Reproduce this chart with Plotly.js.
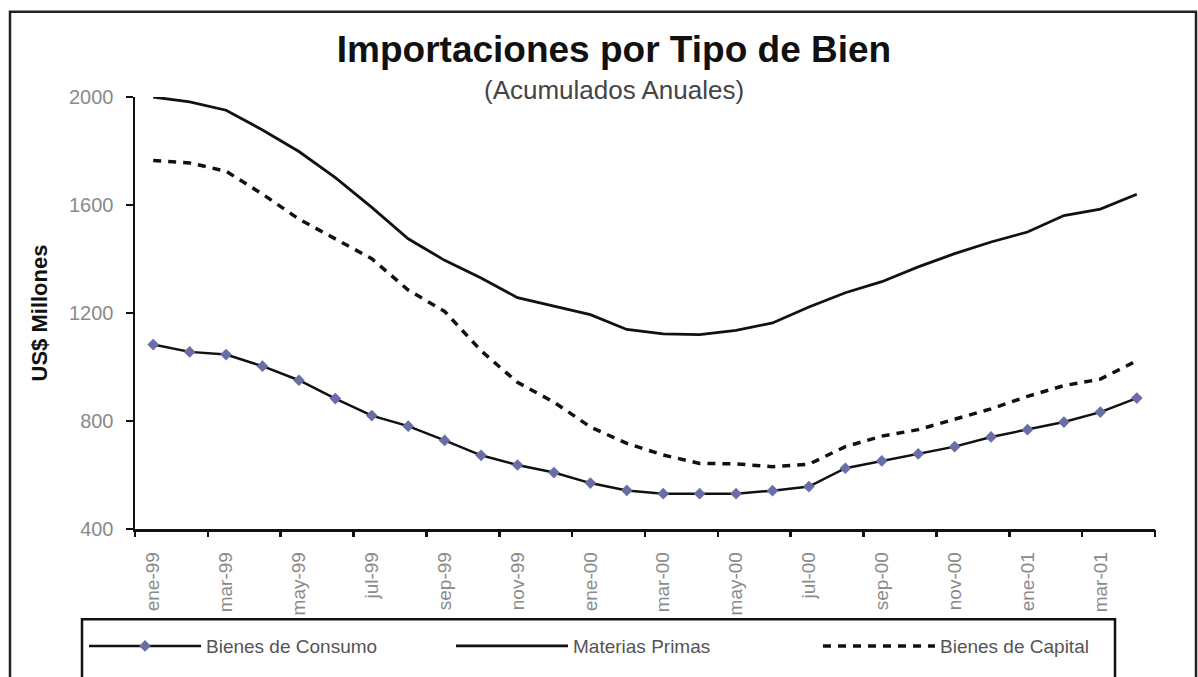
<!DOCTYPE html>
<html>
<head>
<meta charset="utf-8">
<script src="https://cdn.plot.ly/plotly-3.0.1.min.js"></script>
<style>
  html, body { margin: 0; padding: 0; background: #ffffff; }
  #chart { width: 1198px; height: 677px; }
</style>
</head>
<body>
<div id="chart"></div>
<script>
// ---- Data (US$ millones, acumulados anuales) ----
const months = [
  'ene-99','feb-99','mar-99','abr-99','may-99','jun-99','jul-99','ago-99','sep-99','oct-99','nov-99','dic-99',
  'ene-00','feb-00','mar-00','abr-00','may-00','jun-00','jul-00','ago-00','sep-00','oct-00','nov-00','dic-00',
  'ene-01','feb-01','mar-01','abr-01'
];
const tickLabels = ['ene-99','mar-99','may-99','jul-99','sep-99','nov-99','ene-00','mar-00','may-00','jul-00','sep-00','nov-00','ene-01','mar-01'];
const bienesConsumo = [1083,1056,1046,1003,951,883,820,781,728,673,637,609,570,543,531,531,531,542,557,625,652,678,705,741,768,796,833,885];
const materiasPrimas = [2000,1982,1951,1878,1798,1701,1591,1475,1395,1330,1257,1225,1194,1139,1123,1120,1136,1163,1222,1275,1316,1371,1420,1463,1500,1561,1585,1640];
const bienesCapital = [1765,1756,1725,1640,1548,1475,1401,1285,1206,1060,943,870,778,717,674,643,641,631,640,705,744,768,808,845,891,931,955,1023];
const yTicks = [400, 800, 1200, 1600, 2000];

// ---- Layout geometry ----
const W = 1198, H = 677;
const M = {l: 135, r: 43, t: 97, b: 144};
const PW = W - M.l - M.r, PH = H - M.t - M.b;
const px = v => (v - M.l) / PW;        // pixel x -> paper x
const py = v => (H - M.b - v) / PH;    // pixel y -> paper y

// tick marks sit on the boundaries between category pairs
const boundaryTicks = [];
for (let k = -0.5; k <= months.length - 0.5; k += 2) boundaryTicks.push(k);

const font = 'Liberation Sans, Arial, sans-serif';

const traces = [
  {
    x: months, y: bienesConsumo, name: 'Bienes de Consumo', type: 'scatter', mode: 'lines+markers',
    line: {color: '#111111', width: 2.5},
    marker: {symbol: 'diamond', size: 9, color: '#6a6ea6', line: {width: 0}}
  },
  {
    x: months, y: materiasPrimas, name: 'Materias Primas', type: 'scatter', mode: 'lines',
    line: {color: '#111111', width: 2.8}
  },
  {
    x: months, y: bienesCapital, name: 'Bienes de Capital', type: 'scatter', mode: 'lines',
    line: {color: '#111111', width: 3.5, dash: '8px,7px'}
  },
  // carrier for the boundary tick-mark axis (draws nothing)
  {
    x: [null], y: [null], xaxis: 'x2', yaxis: 'y', type: 'scatter', mode: 'lines',
    showlegend: false, hoverinfo: 'skip'
  }
];

const layout = {
  width: W, height: H,
  margin: M,
  paper_bgcolor: '#ffffff', plot_bgcolor: '#ffffff',
  font: {family: font, color: '#222'},
  showlegend: true,
  title: {
    text: '<b>Importaciones por Tipo de Bien</b>',
    font: {family: font, size: 37, color: '#111'},
    x: 614 / W, xref: 'container', xanchor: 'center',
    y: 1 - 49 / H, yref: 'container', yanchor: 'middle'
  },
  xaxis: {
    type: 'category', range: [-0.5, months.length - 0.5],
    tickmode: 'array', tickvals: tickLabels, ticktext: tickLabels,
    tickangle: -90, ticks: '', ticklabelstandoff: 13,
    tickfont: {family: font, size: 19, color: '#8a8a8a'},
    showline: true, linecolor: '#111', linewidth: 2.5,
    showgrid: false, zeroline: false, fixedrange: true
  },
  xaxis2: {
    type: 'linear', overlaying: 'x', anchor: 'y', side: 'bottom',
    range: [-0.5, months.length - 0.5],
    tickmode: 'array', tickvals: boundaryTicks,
    ticks: 'outside', ticklen: 7, tickwidth: 2.5, tickcolor: '#111',
    showticklabels: false, showline: false, showgrid: false, zeroline: false
  },
  yaxis: {
    range: [400, 2000], tickmode: 'array', tickvals: yTicks,
    ticks: 'outside', ticklen: 7, tickwidth: 2.5, tickcolor: '#111',
    ticklabelstandoff: 8,
    tickfont: {family: font, size: 20, color: '#8a8a8a'},
    showline: true, linecolor: '#111', linewidth: 2.5,
    showgrid: false, zeroline: false,
    title: {text: '<b>US$ Millones</b>', font: {family: font, size: 22, color: '#111'}, standoff: 16},
    automargin: true
  },
  legend: {
    orientation: 'h', x: px(84), xanchor: 'left', y: py(632), yanchor: 'top',
    bgcolor: 'rgba(0,0,0,0)', borderwidth: 0,
    font: {family: font, size: 19, color: '#555'},
    itemwidth: 112, entrywidth: 240, traceorder: 'normal'
  },
  annotations: [
    {
      text: '(Acumulados Anuales)', xref: 'paper', yref: 'paper',
      x: px(614), y: py(73), xanchor: 'center', yanchor: 'top',
      showarrow: false, font: {family: font, size: 26, color: '#444'}
    }
  ],
  shapes: [
    {type: 'rect', xref: 'paper', yref: 'paper', x0: px(10), x1: px(1196), y0: py(700), y1: py(11),
     line: {color: '#222', width: 2.5}, fillcolor: 'rgba(0,0,0,0)', layer: 'below'},
    {type: 'rect', xref: 'paper', yref: 'paper', x0: px(82), x1: px(1115), y0: py(700), y1: py(624),
     line: {color: '#111', width: 2.5}, fillcolor: 'rgba(0,0,0,0)', layer: 'above'}
  ]
};

Plotly.newPlot('chart', traces, layout, {displayModeBar: false, staticPlot: true});
</script>
</body>
</html>
